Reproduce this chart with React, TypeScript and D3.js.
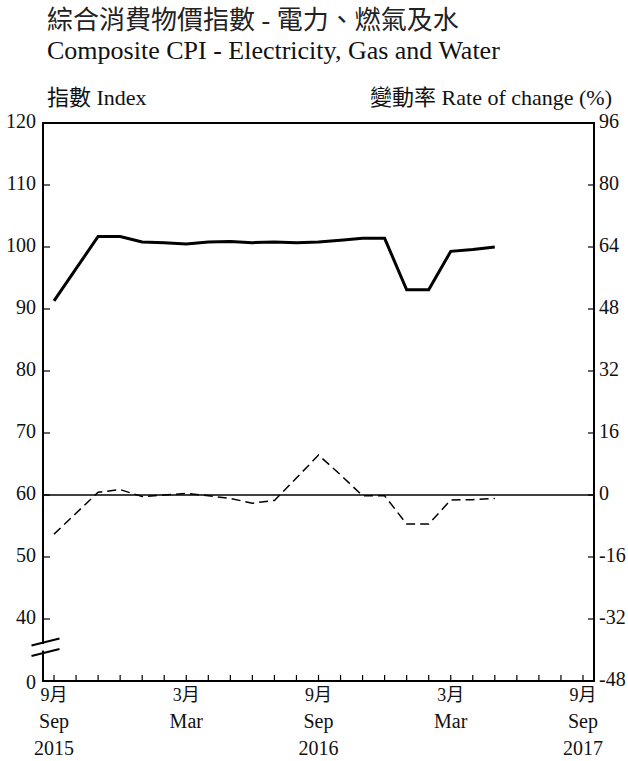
import React from "react";
import * as d3 from "d3";

// ---- data ----
const indexValues = [91.3, 96.5, 101.7, 101.7, 100.8, 100.7, 100.5, 100.8, 100.9, 100.7, 100.8, 100.7, 100.8, 101.1, 101.4, 101.4, 93.1, 93.1, 99.3, 99.6, 100.0];
const rateValues = [-10.1, -4.7, 0.7, 1.4, -0.4, 0.0, 0.4, -0.2, -0.9, -2.1, -1.4, 4.4, 10.3, 5.2, -0.2, -0.2, -7.5, -7.5, -1.3, -1.2, -0.9];
const monthCount = 25; // Sep 2015 .. Sep 2017
const xLabelIdx = [0, 6, 12, 18, 24];
const xLabelsCn = ["9月", "3月", "9月", "3月", "9月"];
const xLabelsEn = ["Sep", "Mar", "Sep", "Mar", "Sep"];
const xLabelsYear = ["2015", "", "2016", "", "2017"];
const leftTicks = [40, 50, 60, 70, 80, 90, 100, 110, 120];
const rightTicks = [-48, -32, -16, 0, 16, 32, 48, 64, 80, 96];

const titleCn = "綜合消費物價指數 - 電力、燃氣及水";
const titleEn = "Composite CPI - Electricity, Gas and Water";
const leftTitle = "指數 Index";
const rightTitle = "變動率 Rate of change (%)";

const FONT = "'Liberation Serif', 'Noto Sans CJK TC', serif";

export default function App() {
  const L = 43, R = 594, T = 123, B = 681;
  const months = d3.range(monthCount);
  const x = d3.scalePoint<number>().domain(months).range([L, R]).padding(0.5);
  const yL = d3.scaleLinear().domain([30, 120]).range([B, T]);
  const yR = d3.scaleLinear().domain([-48, 96]).range([B, T]);

  const idxLine = d3.line<number>().x((_, i) => x(i)!).y((d) => yL(d))(indexValues)!;
  const rateLine = d3.line<number>().x((_, i) => x(i)!).y((d) => yR(d))(rateValues)!;

  const bw = 28, bh = 7;
  const bY1 = 642, bY2 = 652.5;

  return (
    <svg width={628} height={761} style={{ position: "absolute", left: 0, top: 0, background: "#fff" }} fontFamily={FONT}>
      <text x={47} y={29} fontSize={26} fill="#222">{titleCn}</text>
      <text x={47} y={59} fontSize={26} fill="#111">{titleEn}</text>
      <text x={47} y={105} fontSize={22} fill="#111">{leftTitle}</text>
      <text x={612} y={105} fontSize={22} fill="#111" textAnchor="end">{rightTitle}</text>

      {/* zero line */}
      <line x1={L} x2={R} y1={yR(0)} y2={yR(0)} stroke="#000" strokeWidth={1.5} />

      {/* series */}
      <path d={rateLine} fill="none" stroke="#000" strokeWidth={1.5} strokeDasharray="9,5" />
      <path d={idxLine} fill="none" stroke="#000" strokeWidth={3} strokeLinejoin="miter" />

      {/* frame */}
      <rect x={L} y={T} width={R - L} height={B - T} fill="none" stroke="#000" strokeWidth={2} />

      {/* left ticks */}
      {leftTicks.map((t) => (
        <g key={"l" + t}>
          {t !== 120 && <line x1={L} x2={L + 7} y1={yL(t)} y2={yL(t)} stroke="#000" strokeWidth={1.2} />}
          <text x={36} y={yL(t)} fontSize={20} textAnchor="end" dominantBaseline="middle" fill="#111">{t}</text>
        </g>
      ))}
      <text x={36} y={B + 3} fontSize={20} textAnchor="end" dominantBaseline="middle" fill="#111">0</text>

      {/* right ticks */}
      {rightTicks.map((t) => (
        <g key={"r" + t}>
          {t !== 96 && t !== -48 && <line x1={R - 6} x2={R} y1={yR(t)} y2={yR(t)} stroke="#000" strokeWidth={1.2} />}
          <text x={599} y={yR(t)} fontSize={20} textAnchor="start" dominantBaseline="middle" fill="#111">{t}</text>
        </g>
      ))}

      {/* bottom ticks */}
      {months.map((m) => (
        <line key={"b" + m} x1={x(m)!} x2={x(m)!} y1={B} y2={B - 6} stroke="#000" strokeWidth={1.2} />
      ))}
      {xLabelIdx.map((m, i) => (
        <g key={"xl" + m}>
          <text x={x(m)!} y={701} fontSize={18} textAnchor="middle" fill="#111">{xLabelsCn[i]}</text>
          <text x={x(m)!} y={728} fontSize={20} textAnchor="middle" fill="#111">{xLabelsEn[i]}</text>
          <text x={x(m)!} y={755} fontSize={20} textAnchor="middle" fill="#111">{xLabelsYear[i]}</text>
        </g>
      ))}

      {/* axis break */}
      <line x1={L} x2={L} y1={bY1 + 2} y2={bY2 - 2} stroke="#fff" strokeWidth={4} />
      <line x1={L - bw / 2 + 2.5} x2={L + bw / 2 + 2.5} y1={bY1 + bh / 2} y2={bY1 - bh / 2} stroke="#000" strokeWidth={2} />
      <line x1={L - bw / 2 + 2.5} x2={L + bw / 2 + 2.5} y1={bY2 + bh / 2} y2={bY2 - bh / 2} stroke="#000" strokeWidth={2} />
    </svg>
  );
}
